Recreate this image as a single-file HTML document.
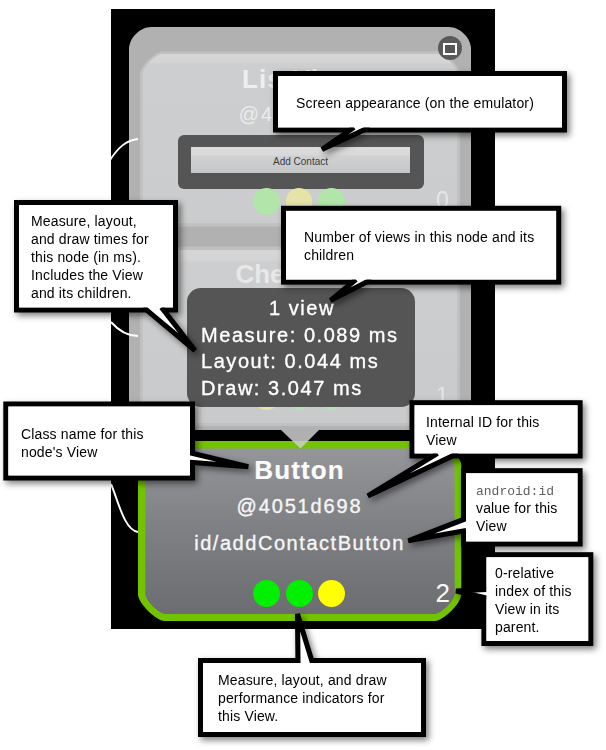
<!DOCTYPE html>
<html><head><meta charset="utf-8">
<style>
html,body{margin:0;padding:0;background:#fff;}
body{width:606px;height:750px;position:relative;overflow:hidden;font-family:"Liberation Sans",sans-serif;-webkit-font-smoothing:antialiased;}
.ct,.tt{will-change:transform;}
.a{position:absolute;}
.ct{position:absolute;font-size:14px;letter-spacing:0.15px;line-height:18px;color:#000;white-space:nowrap;}
.tt{position:absolute;color:#fff;font-size:20px;letter-spacing:1.55px;white-space:nowrap;-webkit-text-stroke:0.35px #fff;}
</style></head><body>
<!-- emulator frame -->
<div class="a" style="left:111px;top:9px;width:384px;height:620px;background:#000"></div>
<svg class="a" style="left:0;top:0" width="606" height="750">
<defs>
<linearGradient id="c1g" x1="0" y1="0" x2="0" y2="1"><stop offset="0" stop-color="#d6d6d6"/><stop offset="0.05" stop-color="#d4d4d4"/><stop offset="0.06" stop-color="#cdcecf"/><stop offset="1" stop-color="#cbcccd"/></linearGradient>
<linearGradient id="c2g" x1="0" y1="0" x2="0" y2="1"><stop offset="0" stop-color="#d6d6d6"/><stop offset="0.06" stop-color="#d4d4d4"/><stop offset="0.07" stop-color="#cdcecf"/><stop offset="1" stop-color="#c9cacb"/></linearGradient>
</defs>
<path d="M151.00,27.00 L449.00,27.00 C460.00,27.00 471.00,38.00 471.00,49.00 L471.00,430.00 C471.00,430.00 471.00,430.00 471.00,430.00 L129.00,430.00 C129.00,430.00 129.00,430.00 129.00,430.00 L129.00,49.00 C129.00,38.00 140.00,27.00 151.00,27.00 Z" fill="#b1b1b1"/>
<path d="M162.00,51.40 L438.00,51.40 C444.60,51.40 460.00,66.80 460.00,73.40 L460.00,226.80 C460.00,226.80 460.00,226.80 460.00,226.80 L140.00,226.80 C140.00,226.80 140.00,226.80 140.00,226.80 L140.00,73.40 C140.00,66.80 155.40,51.40 162.00,51.40 Z" fill="#c1c1c1"/>
<path d="M161.80,54.00 L438.20,54.00 C443.90,54.00 457.20,67.30 457.20,73.00 L457.20,223.00 C457.20,223.00 457.20,223.00 457.20,223.00 L142.80,223.00 C142.80,223.00 142.80,223.00 142.80,223.00 L142.80,73.00 C142.80,67.30 156.10,54.00 161.80,54.00 Z" fill="url(#c1g)"/>
<rect x="140" y="246.6" width="320" height="179.5" fill="#c0c0c0"/>
<rect x="142.8" y="250" width="314.4" height="173" fill="url(#c2g)"/>
</svg>
<!-- close icon -->
<div class="a" style="left:438px;top:36px;width:24px;height:24px;border-radius:50%;background:#5a5a5a"></div>
<div class="a" style="left:443px;top:43px;width:10px;height:8px;border:2px solid #fff;background:#555"></div>
<!-- ListView node -->
<div class="a" style="left:140px;top:64px;width:318px;text-align:center;font-weight:bold;font-size:26px;letter-spacing:1.1px;color:#efefef">ListView</div>
<div class="a" style="left:140px;top:103px;width:318px;text-align:center;font-size:20px;letter-spacing:1.85px;color:#ececec">@4051d1f0</div>
<div class="a" style="left:177.5px;top:135px;width:246.5px;height:53.5px;background:#555;border-radius:6px"></div>
<div class="a" style="left:191px;top:147px;width:219px;height:26px;background:linear-gradient(#dcdcdc,#d9d9d9 28%,#d0d1d2 36%,#c6c7c8)"></div>
<div class="a" style="left:191px;top:156px;width:219px;text-align:center;font-size:10px;color:#3c3c3c">Add Contact</div>
<div class="a" style="left:253.2px;top:188px;width:26.5px;height:26.5px;border-radius:50%;background:#b1e5a9"></div>
<div class="a" style="left:285.8px;top:188px;width:26.5px;height:26.5px;border-radius:50%;background:#e6e3a8"></div>
<div class="a" style="left:318.2px;top:188px;width:26.5px;height:26.5px;border-radius:50%;background:#b1e5a9"></div>
<div class="a" style="left:436px;top:186.5px;font-size:23px;color:#e6e6e6">0</div>
<!-- CheckBox node -->
<div class="a" style="left:140px;top:258.5px;width:318px;text-align:center;font-weight:bold;font-size:26px;color:#e8e8e8">CheckBox</div>
<div class="a" style="left:253px;top:383px;width:27px;height:27px;border-radius:50%;background:#e6e3a8"></div>
<div class="a" style="left:286px;top:383px;width:27px;height:27px;border-radius:50%;background:#b1e5a9"></div>
<div class="a" style="left:318px;top:383px;width:27px;height:27px;border-radius:50%;background:#b1e5a9"></div>
<div class="a" style="left:436px;top:382px;font-size:22px;color:#e6e6e6">1</div>
<!-- white link curves -->
<svg class="a" style="left:0;top:0" width="606" height="750">
<path d="M110,160 C118,148 126,140 138,139" stroke="#fff" stroke-width="1.9" fill="none"/>
<path d="M111,322 C118,330 126,336 138,336" stroke="#fff" stroke-width="1.9" fill="none"/>
<path d="M111,484 C118,500 124,530 138,532" stroke="#fff" stroke-width="1.9" fill="none"/>
</svg>
<!-- Button node -->
<svg class="a" style="left:0;top:0" width="606" height="750">
<defs><linearGradient id="cg" x1="0" y1="0" x2="0" y2="1"><stop offset="0" stop-color="#95969a"/><stop offset="0.5" stop-color="#7e7f83"/><stop offset="1" stop-color="#6c6d71"/></linearGradient></defs>
<path d="M162.00,441.00 L437.30,441.00 C444.98,441.00 461.30,457.32 461.30,465.00 L461.30,594.50 C461.30,602.98 443.28,621.00 434.80,621.00 L164.50,621.00 C156.02,621.00 138.00,602.98 138.00,594.50 L138.00,465.00 C138.00,457.32 154.32,441.00 162.00,441.00 Z" fill="#72c400"/>
<path d="M163.30,448.50 L436.70,448.50 C442.46,448.50 454.70,460.74 454.70,466.50 L454.70,594.00 C454.70,600.40 441.10,614.00 434.70,614.00 L165.30,614.00 C158.90,614.00 145.30,600.40 145.30,594.00 L145.30,466.50 C145.30,460.74 157.54,448.50 163.30,448.50 Z" fill="url(#cg)"/>
</svg>
<div class="a" style="left:138px;top:455px;width:323px;text-align:center;font-weight:bold;font-size:26px;letter-spacing:1.1px;color:#fbfbfb;-webkit-text-stroke:0.2px #fbfbfb">Button</div>
<div class="a" style="left:138px;top:494.5px;width:323px;text-align:center;font-size:20px;letter-spacing:1.85px;color:#f6f6f6;-webkit-text-stroke:0.35px #f6f6f6">@4051d698</div>
<div class="a" style="left:138px;top:532px;width:323px;text-align:center;font-size:20px;letter-spacing:1.55px;color:#f6f6f6;-webkit-text-stroke:0.35px #f6f6f6">id/addContactButton</div>
<div class="a" style="left:253px;top:580px;width:27px;height:27px;border-radius:50%;background:#00f000"></div>
<div class="a" style="left:286px;top:580px;width:27px;height:27px;border-radius:50%;background:#00f000"></div>
<div class="a" style="left:318px;top:580px;width:27px;height:27px;border-radius:50%;background:#ffff00"></div>
<div class="a" style="left:435.5px;top:578px;font-size:26px;color:#f8f8f8">2</div>
<!-- tooltip -->
<div class="a" style="left:186.8px;top:287.8px;width:228.4px;height:119px;background:#555;border-radius:14px"></div>
<svg class="a" style="left:0;top:0" width="606" height="750">
<polygon points="281,430 319,430 300.5,448.5" fill="#cfcfcf" fill-opacity="0.85"/>
</svg>
<div class="tt" style="left:186.8px;top:297px;width:230px;text-align:center">1 view</div>
<div class="tt" style="left:201px;top:324px">Measure: 0.089 ms</div>
<div class="tt" style="left:201px;top:350px">Layout: 0.044 ms</div>
<div class="tt" style="left:201px;top:377px">Draw: 3.047 ms</div>
<!-- callouts -->
<svg class="a" style="left:0;top:0" width="606" height="750">
<defs><filter id="sh" x="-10%" y="-10%" width="130%" height="140%"><feDropShadow dx="2.8" dy="3.2" stdDeviation="3" flood-color="#000" flood-opacity="0.5"/></filter></defs>
<g filter="url(#sh)">
<rect x="273" y="71" width="294.0" height="61.5" fill="#000"/>
<rect x="278.1" y="76.1" width="283.8" height="51.3" fill="#fff"/>
<polygon points="354.0,124.4 322.0,149.5 369.5,124.4" fill="#fff"/>
<polyline points="354.0,127.4 322.0,149.5 369.5,127.4" fill="none" stroke="#000" stroke-width="5.1" stroke-linejoin="bevel"/>
</g>
<rect x="278.1" y="76.1" width="283.8" height="51.3" fill="#fff"/>
<g filter="url(#sh)">
<rect x="14" y="200" width="164.0" height="112.5" fill="#000"/>
<rect x="19.1" y="205.1" width="153.8" height="102.3" fill="#fff"/>
<polygon points="143.5,304.4 195.0,350.5 161.5,304.4" fill="#fff"/>
<polyline points="143.5,307.4 195.0,350.5 161.5,307.4" fill="none" stroke="#000" stroke-width="5.1" stroke-linejoin="bevel"/>
</g>
<rect x="19.1" y="205.1" width="153.8" height="102.3" fill="#fff"/>
<g filter="url(#sh)">
<rect x="281" y="205.8" width="280.2" height="78.8" fill="#000"/>
<rect x="286.1" y="210.9" width="270.0" height="68.6" fill="#fff"/>
<polygon points="356.0,276.5 330.5,300.5 371.5,276.5" fill="#fff"/>
<polyline points="356.0,279.5 330.5,300.5 371.5,279.5" fill="none" stroke="#000" stroke-width="5.1" stroke-linejoin="bevel"/>
</g>
<rect x="286.1" y="210.9" width="270.0" height="68.6" fill="#fff"/>
<g filter="url(#sh)">
<rect x="3.3" y="401.5" width="191.7" height="79.0" fill="#000"/>
<rect x="8.4" y="406.6" width="181.5" height="68.8" fill="#fff"/>
<polygon points="186.9,452.8 248.3,466.8 186.9,462.3" fill="#fff"/>
<polyline points="189.9,452.8 248.3,466.8 189.9,462.3" fill="none" stroke="#000" stroke-width="5.1" stroke-linejoin="bevel"/>
</g>
<rect x="8.4" y="406.6" width="181.5" height="68.8" fill="#fff"/>
<g filter="url(#sh)">
<rect x="409.5" y="400.2" width="173.1" height="58.3" fill="#000"/>
<rect x="414.6" y="405.3" width="162.9" height="48.1" fill="#fff"/>
<polygon points="437.5,450.4 367.8,496.0 458.0,450.4" fill="#fff"/>
<polyline points="437.5,453.4 367.8,496.0 458.0,453.4" fill="none" stroke="#000" stroke-width="5.1" stroke-linejoin="bevel"/>
</g>
<rect x="414.6" y="405.3" width="162.9" height="48.1" fill="#fff"/>
<g filter="url(#sh)">
<rect x="461" y="468.2" width="121.6" height="78.3" fill="#000"/>
<rect x="466.1" y="473.3" width="111.4" height="68.1" fill="#fff"/>
<polygon points="469.1,518.5 408.3,540.8 469.1,530.5" fill="#fff"/>
<polyline points="466.1,518.5 408.3,540.8 466.1,530.5" fill="none" stroke="#000" stroke-width="5.1" stroke-linejoin="bevel"/>
</g>
<rect x="466.1" y="473.3" width="111.4" height="68.1" fill="#fff"/>
<g filter="url(#sh)">
<rect x="481.4" y="552.2" width="111.9" height="93.8" fill="#000"/>
<rect x="486.5" y="557.3" width="101.7" height="83.6" fill="#fff"/>
<polygon points="489.5,589.5 456.0,591.0 489.5,598.0" fill="#fff"/>
<polyline points="486.5,589.5 456.0,591.0 486.5,598.0" fill="none" stroke="#000" stroke-width="5.1" stroke-linejoin="bevel"/>
</g>
<rect x="486.5" y="557.3" width="101.7" height="83.6" fill="#fff"/>
<g filter="url(#sh)">
<rect x="198" y="658" width="228.0" height="79.0" fill="#000"/>
<rect x="203.1" y="663.1" width="217.8" height="68.8" fill="#fff"/>
<polygon points="298.0,666.1 297.5,614.0 312.5,666.1" fill="#fff"/>
<polyline points="298.0,663.1 297.5,614.0 312.5,663.1" fill="none" stroke="#000" stroke-width="5.1" stroke-linejoin="bevel"/>
</g>
<rect x="203.1" y="663.1" width="217.8" height="68.8" fill="#fff"/>
</svg>
<div class="ct" style="left:296px;top:93.5px">Screen appearance (on the emulator)</div>
<div class="ct" style="left:31px;top:211.8px">Measure, layout,<br>and draw times for<br>this node (in ms).<br>Includes the View<br>and its children.</div>
<div class="ct" style="left:304px;top:228.0px">Number of views in this node and its<br>children</div>
<div class="ct" style="left:21px;top:424.5px">Class name for this<br>node's View</div>
<div class="ct" style="left:426px;top:412.5px">Internal ID for this<br>View</div>
<div class="ct" style="left:476px;top:483.2px;font-family:'Liberation Mono',monospace;font-size:13px;letter-spacing:0;color:#606060">android:id</div>
<div class="ct" style="left:476px;top:499.2px">value for this<br>View</div>
<div class="ct" style="left:495px;top:563.8px">0-relative<br>index of this<br>View in its<br>parent.</div>
<div class="ct" style="left:218px;top:670.5px">Measure, layout, and draw<br>performance indicators for<br>this View.</div>
</body></html>
